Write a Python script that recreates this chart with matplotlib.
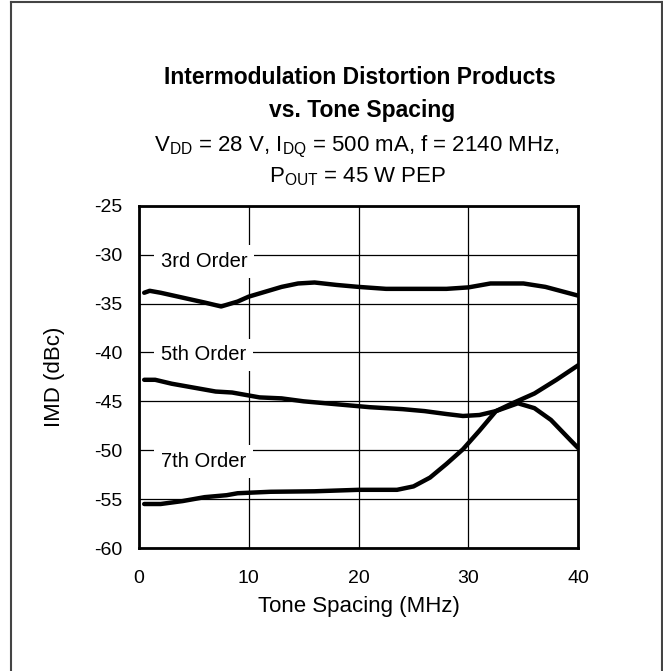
import matplotlib
matplotlib.use("Agg")
import matplotlib.pyplot as plt
from matplotlib.lines import Line2D

plt.rcParams['font.family'] = ['Liberation Sans', 'DejaVu Sans']
plt.rcParams['mathtext.fontset'] = 'custom'
plt.rcParams['mathtext.rm'] = 'Liberation Sans'
plt.rcParams['mathtext.it'] = 'Liberation Sans'

# data
third_x = [0.5, 1, 2, 4, 6, 7.5, 9, 10, 11.5, 13, 14.5, 16, 18, 20, 22.5, 25, 28, 30, 32, 35, 37, 40]
third_y = [-33.9, -33.7, -33.9, -34.4, -34.9, -35.3, -34.8, -34.3, -33.8, -33.3, -32.95, -32.85,
           -33.1, -33.3, -33.5, -33.5, -33.5, -33.35, -32.95, -32.95, -33.3, -34.2]

fifth_x = [0.5, 1.5, 3, 5, 7, 8.5, 10, 11, 13, 15, 18, 21, 24, 26, 28, 29.5, 31, 32.5, 34.5,
           36, 37.5, 39.3, 40]
fifth_y = [-42.8, -42.8, -43.2, -43.6, -44.0, -44.1, -44.4, -44.6, -44.7, -45.0, -45.3, -45.6,
           -45.8, -46.0, -46.3, -46.5, -46.4, -46.0, -45.2, -45.7, -46.9, -49.0, -49.8]

seventh_x = [0.5, 2, 4, 6, 8, 9, 12, 16, 20, 23.5, 25, 26.5, 28, 29.5, 31, 32.5, 34, 36, 38, 40]
seventh_y = [-55.5, -55.5, -55.2, -54.8, -54.6, -54.4, -54.25, -54.2, -54.05, -54.05, -53.7,
             -52.8, -51.4, -49.9, -48.0, -46.0, -45.2, -44.2, -42.8, -41.3]

labels = ["3rd Order", "5th Order", "7th Order"]
label_y = [-30.7, -40.25, -51.15]

x_ticks = [0, 10, 20, 30, 40]
y_ticks = [-60, -55, -50, -45, -40, -35, -30, -25]

fig = plt.figure(figsize=(6.63, 6.71), dpi=100)
ax = fig.add_axes([0.2092, 0.1833, 0.6632, 0.5101])

# outer frame (left, top, right) - no bottom edge in the original
for xs, ys in [([11 / 663, 11 / 663], [0, 1 - 2 / 671]),
               ([11 / 663, 662 / 663], [1 - 2 / 671, 1 - 2 / 671]),
               ([662 / 663, 662 / 663], [0, 1 - 2 / 671])]:
    fig.add_artist(Line2D(xs, ys, transform=fig.transFigure, color='#444444', lw=1.5))

ax.set_xlim(0, 40)
ax.set_ylim(-60, -25)
ax.set_xticks(x_ticks)
ax.set_yticks(y_ticks)
ax.set_yticklabels([str(v) for v in y_ticks])
ax.grid(True, color='black', lw=0.9)
ax.set_axisbelow(True)
ax.tick_params(length=0, labelsize=14)
ax.tick_params(axis='x', pad=16)
ax.tick_params(axis='y', pad=12)
for s in ax.spines.values():
    s.set_linewidth(2)

for xs, ys in [(third_x, third_y), (fifth_x, fifth_y), (seventh_x, seventh_y)]:
    ax.plot(xs, ys, color='black', lw=3.2, solid_capstyle='round')

for lab, yy in zip(labels, label_y):
    ax.text(2.0, yy, lab, fontsize=14.5, va='center', ha='left',
            bbox=dict(facecolor='white', edgecolor='none', pad=5))

ax.set_xlabel("Tone Spacing (MHz)", fontsize=16, va='top')
ax.xaxis.set_label_coords(0.5, -0.14)
ax.set_ylabel("IMD (dBc)", fontsize=16)
ax.yaxis.set_label_coords(-0.168, 0.5)

fig.text(360 / 663, 1 - 77.5 / 671, "Intermodulation Distortion Products", fontsize=16.5,
         fontweight='bold', ha='center', va='center')
fig.text(362 / 663, 1 - 110 / 671, "vs. Tone Spacing", fontsize=16.5,
         fontweight='bold', ha='center', va='center')
fig.text(357 / 663, 1 - 147 / 671,
         r"V$_{\mathrm{DD}}$ = 28 V, I$_{\mathrm{DQ}}$ = 500 mA, f = 2140 MHz,",
         fontsize=16, ha='center', va='center')
fig.text(358 / 663, 1 - 177 / 671, r"P$_{\mathrm{OUT}}$ = 45 W PEP",
         fontsize=16, ha='center', va='center')

fig.savefig("out.png", dpi=100)
